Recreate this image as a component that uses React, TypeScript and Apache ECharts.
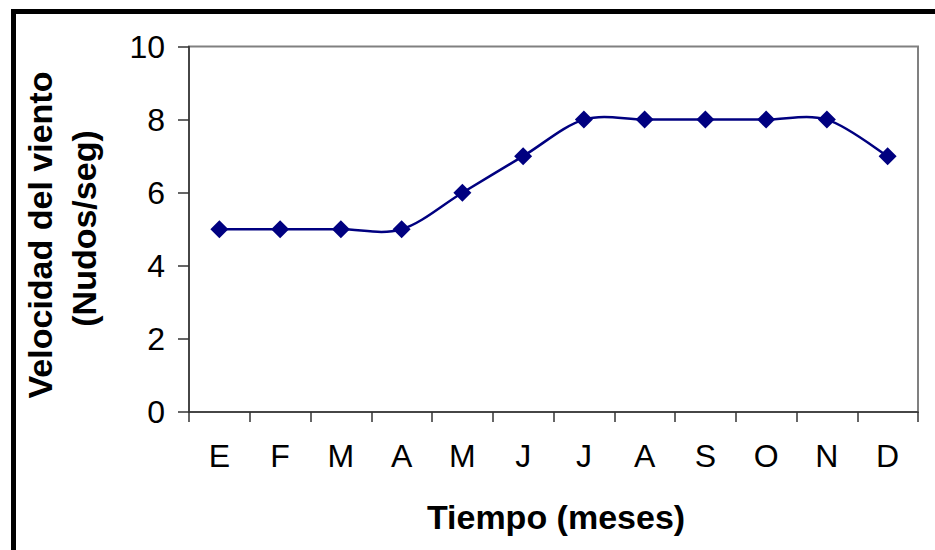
import React, { useEffect, useRef } from "react";
import * as echarts from "echarts";

const months = ["E", "F", "M", "A", "M", "J", "J", "A", "S", "O", "N", "D"];
const windSpeed = [5, 5, 5, 5, 6, 7, 8, 8, 8, 8, 8, 7];
const yTitleLines = ["Velocidad del viento", "(Nudos/seg)"];
const xTitle = "Tiempo (meses)";

const FONT = "'Liberation Sans', Arial, Helvetica, sans-serif";
const NAVY = "#000080";

export default function App() {
  const ref = useRef<HTMLDivElement>(null);
  useEffect(() => {
    if (!ref.current) return;
    const chart = echarts.init(ref.current, undefined, { renderer: "svg" });
    const n = windSpeed.length;
    chart.setOption({
      animation: false,
      backgroundColor: "#ffffff",
      grid: {
        left: 189,
        top: 46.5,
        right: 17,
        bottom: 138,
        show: true,
        borderColor: "#808080",
        borderWidth: 2,
        backgroundColor: "transparent",
      },
      xAxis: {
        type: "category",
        data: months,
        boundaryGap: true,
        axisLine: { lineStyle: { color: "#333333", width: 1.5 } },
        axisTick: { show: true, length: 10, lineStyle: { color: "#333333", width: 1.5 } },
        axisLabel: {
          color: "#000",
          fontSize: 32,
          fontFamily: FONT,
          margin: 28,
        },
        splitLine: { show: false },
      },
      yAxis: {
        type: "value",
        min: 0,
        max: 10,
        interval: 2,
        axisLine: { show: true, lineStyle: { color: "#333333", width: 1.5 } },
        axisTick: { show: true, length: 11, lineStyle: { color: "#333333", width: 1.5 } },
        axisLabel: {
          color: "#000",
          fontSize: 32,
          fontFamily: FONT,
          margin: 24,
        },
        splitLine: { show: false },
      },
      series: [
        {
          // Excel-style smoothed curve (Bezier with 1/6 tension)
          type: "custom",
          data: windSpeed.map((v, i) => [i, v]),
          encode: { x: 0, y: 1 },
          z: 1,
          silent: true,
          renderItem: (params: any, api: any) => {
            const i = params.dataIndex;
            if (i >= n - 1) return null;
            const pt = (k: number) => {
              const kk = Math.max(0, Math.min(n - 1, k));
              return api.coord([kk, windSpeed[kk]]);
            };
            const p0 = pt(i - 1);
            const p1 = pt(i);
            const p2 = pt(i + 1);
            const p3 = pt(i + 2);
            const t = 1 / 6;
            return {
              type: "bezierCurve",
              shape: {
                x1: p1[0],
                y1: p1[1],
                cpx1: p1[0] + (p2[0] - p0[0]) * t,
                cpy1: p1[1] + (p2[1] - p0[1]) * t,
                cpx2: p2[0] - (p3[0] - p1[0]) * t,
                cpy2: p2[1] - (p3[1] - p1[1]) * t,
                x2: p2[0],
                y2: p2[1],
              },
              style: { stroke: NAVY, lineWidth: 2.5, fill: "none" },
            };
          },
        },
        {
          type: "line",
          data: windSpeed,
          z: 3,
          symbol: "diamond",
          symbolSize: 18,
          lineStyle: { width: 0, opacity: 0 },
          itemStyle: { color: NAVY },
        },
      ],
      graphic: [
        {
          type: "rect",
          shape: { x: 13.5, y: 11.5, width: 1000, height: 1000 },
          style: { fill: "none", stroke: "#000", lineWidth: 5 },
          silent: true,
        },
        {
          type: "text",
          x: 40,
          y: 235,
          rotation: Math.PI / 2,
          style: {
            text: yTitleLines[0],
            font: `bold 34px ${FONT}`,
            fill: "#000",
            textAlign: "center",
            textVerticalAlign: "middle",
          },
        },
        {
          type: "text",
          x: 84,
          y: 228.5,
          rotation: Math.PI / 2,
          style: {
            text: yTitleLines[1],
            font: `bold 34px ${FONT}`,
            fill: "#000",
            textAlign: "center",
            textVerticalAlign: "middle",
          },
        },
        {
          type: "text",
          x: 556,
          y: 517,
          style: {
            text: xTitle,
            font: `bold 34px ${FONT}`,
            fill: "#000",
            textAlign: "center",
            textVerticalAlign: "middle",
          },
        },
      ],
    });
    return () => chart.dispose();
  }, []);
  return (
    <div
      ref={ref}
      style={{ position: "fixed", left: 0, top: 0, width: 935, height: 550, background: "#fff" }}
    />
  );
}
